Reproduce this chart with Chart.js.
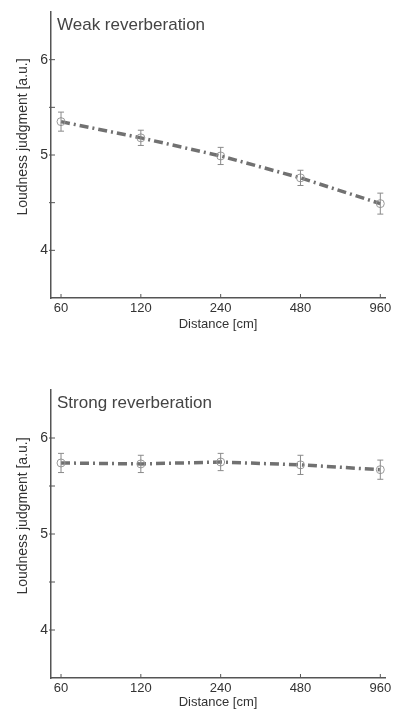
<!DOCTYPE html>
<html>
<head>
<meta charset="utf-8">
<script src="https://cdn.jsdelivr.net/npm/chart.js@4"></script>
<style>
  body { margin: 0; background: #fff; }
  .panel { position: relative; width: 397px; height: 355px; }
</style>
</head>
<body>
<div class="panel"><canvas id="weak"></canvas></div>
<div class="panel"><canvas id="strong"></canvas></div>
<script>
// distances (cm) and mean loudness judgments
const distances = [60, 120, 240, 480, 960];
const weakMeans = [5.35, 5.18, 4.99, 4.76, 4.49];
const weakErr = [0.10, 0.08, 0.09, 0.08, 0.11];
const strongMeans = [5.74, 5.73, 5.75, 5.72, 5.67];
const strongErr = [0.10, 0.09, 0.09, 0.10, 0.10];
const yTickValues = [4, 4.5, 5, 5.5, 6];

const font = 'Liberation Sans, Arial, sans-serif';
const axisColor = '#555';
const textColor = '#333';

// error bars drawn through the scales
const errorBars = {
    id: 'errorBars',
    afterDatasetsDraw(chart, args, opts) {
        const ctx = chart.ctx;
        const xs = chart.scales.x, ys = chart.scales.y;
        ctx.save();
        ctx.strokeStyle = '#8a8a8a';
        ctx.lineWidth = 1;
        opts.means.forEach((m, i) => {
            const x = xs.getPixelForValue(distances[i]);
            const y1 = ys.getPixelForValue(m + opts.err[i]);
            const y2 = ys.getPixelForValue(m - opts.err[i]);
            ctx.beginPath();
            ctx.moveTo(x, y1); ctx.lineTo(x, y2);
            ctx.moveTo(x - 3, y1); ctx.lineTo(x + 3, y1);
            ctx.moveTo(x - 3, y2); ctx.lineTo(x + 3, y2);
            ctx.stroke();
        });
        ctx.restore();
    }
};

// inward tick marks, the y title and the panel caption
const decorations = {
    id: 'decorations',
    afterDraw(chart, args, opts) {
        const ctx = chart.ctx;
        const area = chart.chartArea;
        const xs = chart.scales.x, ys = chart.scales.y;
        ctx.save();
        ctx.strokeStyle = axisColor;
        ctx.lineWidth = 1;
        ctx.beginPath();
        yTickValues.forEach(v => {
            const y = ys.getPixelForValue(v);
            ctx.moveTo(area.left - 2, y); ctx.lineTo(area.left + 4, y);
        });
        distances.forEach(d => {
            const x = xs.getPixelForValue(d);
            ctx.moveTo(x, area.bottom); ctx.lineTo(x, area.bottom - 4);
        });
        ctx.stroke();

        ctx.fillStyle = '#444';
        ctx.font = '17px ' + font;
        ctx.textBaseline = 'middle';
        ctx.textAlign = 'left';
        ctx.fillText(opts.caption, area.left + 6, area.top + 13);

        ctx.fillStyle = textColor;
        ctx.font = '14px ' + font;
        ctx.textAlign = 'center';
        ctx.translate(23, (area.top + area.bottom) / 2 - 18);
        ctx.rotate(-Math.PI / 2);
        ctx.fillText('Loudness judgment [a.u.]', 0, 0);
        ctx.restore();
    }
};

function makeChart(id, means, err, caption, padTop, padBottom, xHeight) {
    const ctx = document.getElementById(id).getContext('2d');
    return new Chart(ctx, {
        type: 'line',
        data: {
            datasets: [{
                data: distances.map((d, i) => ({ x: d, y: means[i] })),
                borderColor: '#717171',
                borderWidth: 3.5,
                borderDash: [9, 4, 2, 4],
                pointStyle: 'circle',
                pointRadius: 4,
                pointBorderWidth: 1,
                pointBorderColor: '#999',
                pointBackgroundColor: 'rgba(255,255,255,0)',
                fill: false,
                tension: 0
            }]
        },
        options: {
            responsive: true,
            maintainAspectRatio: false,
            animation: false,
            layout: { padding: { top: padTop, bottom: padBottom, left: 0, right: 12 } },
            plugins: {
                legend: { display: false },
                tooltip: { enabled: false },
                errorBars: { means: means, err: err },
                decorations: { caption: caption }
            },
            scales: {
                x: {
                    type: 'logarithmic',
                    min: 55,
                    max: 1000,
                    afterBuildTicks: s => { s.ticks = distances.map(v => ({ value: v })); },
                    afterFit: s => { s.height = xHeight; },
                    grid: { display: false, drawTicks: false },
                    border: { display: true, color: axisColor, width: 1.5 },
                    ticks: {
                        autoSkip: false,
                        maxRotation: 0,
                        padding: 3,
                        color: textColor,
                        font: { family: font, size: 13 },
                        callback: v => String(v)
                    },
                    title: {
                        display: true,
                        text: 'Distance [cm]',
                        color: textColor,
                        padding: { top: 0, bottom: 0 },
                        font: { family: font, size: 13 }
                    }
                },
                y: {
                    min: 3.5,
                    max: 6.5,
                    afterBuildTicks: s => { s.ticks = yTickValues.map(v => ({ value: v })); },
                    afterFit: s => { s.width = 51; },
                    grid: { display: false, drawTicks: false },
                    border: { display: true, color: axisColor, width: 1.5 },
                    ticks: {
                        padding: 3,
                        color: textColor,
                        font: { family: font, size: 14 },
                        callback: v => Number.isInteger(v) ? String(v) : ''
                    }
                }
            }
        },
        plugins: [errorBars, decorations]
    });
}

makeChart('weak', weakMeans, weakErr, 'Weak reverberation', 12, 23, 34);
makeChart('strong', strongMeans, strongErr, 'Strong reverberation', 35, 0, 32);
</script>
</body>
</html>
